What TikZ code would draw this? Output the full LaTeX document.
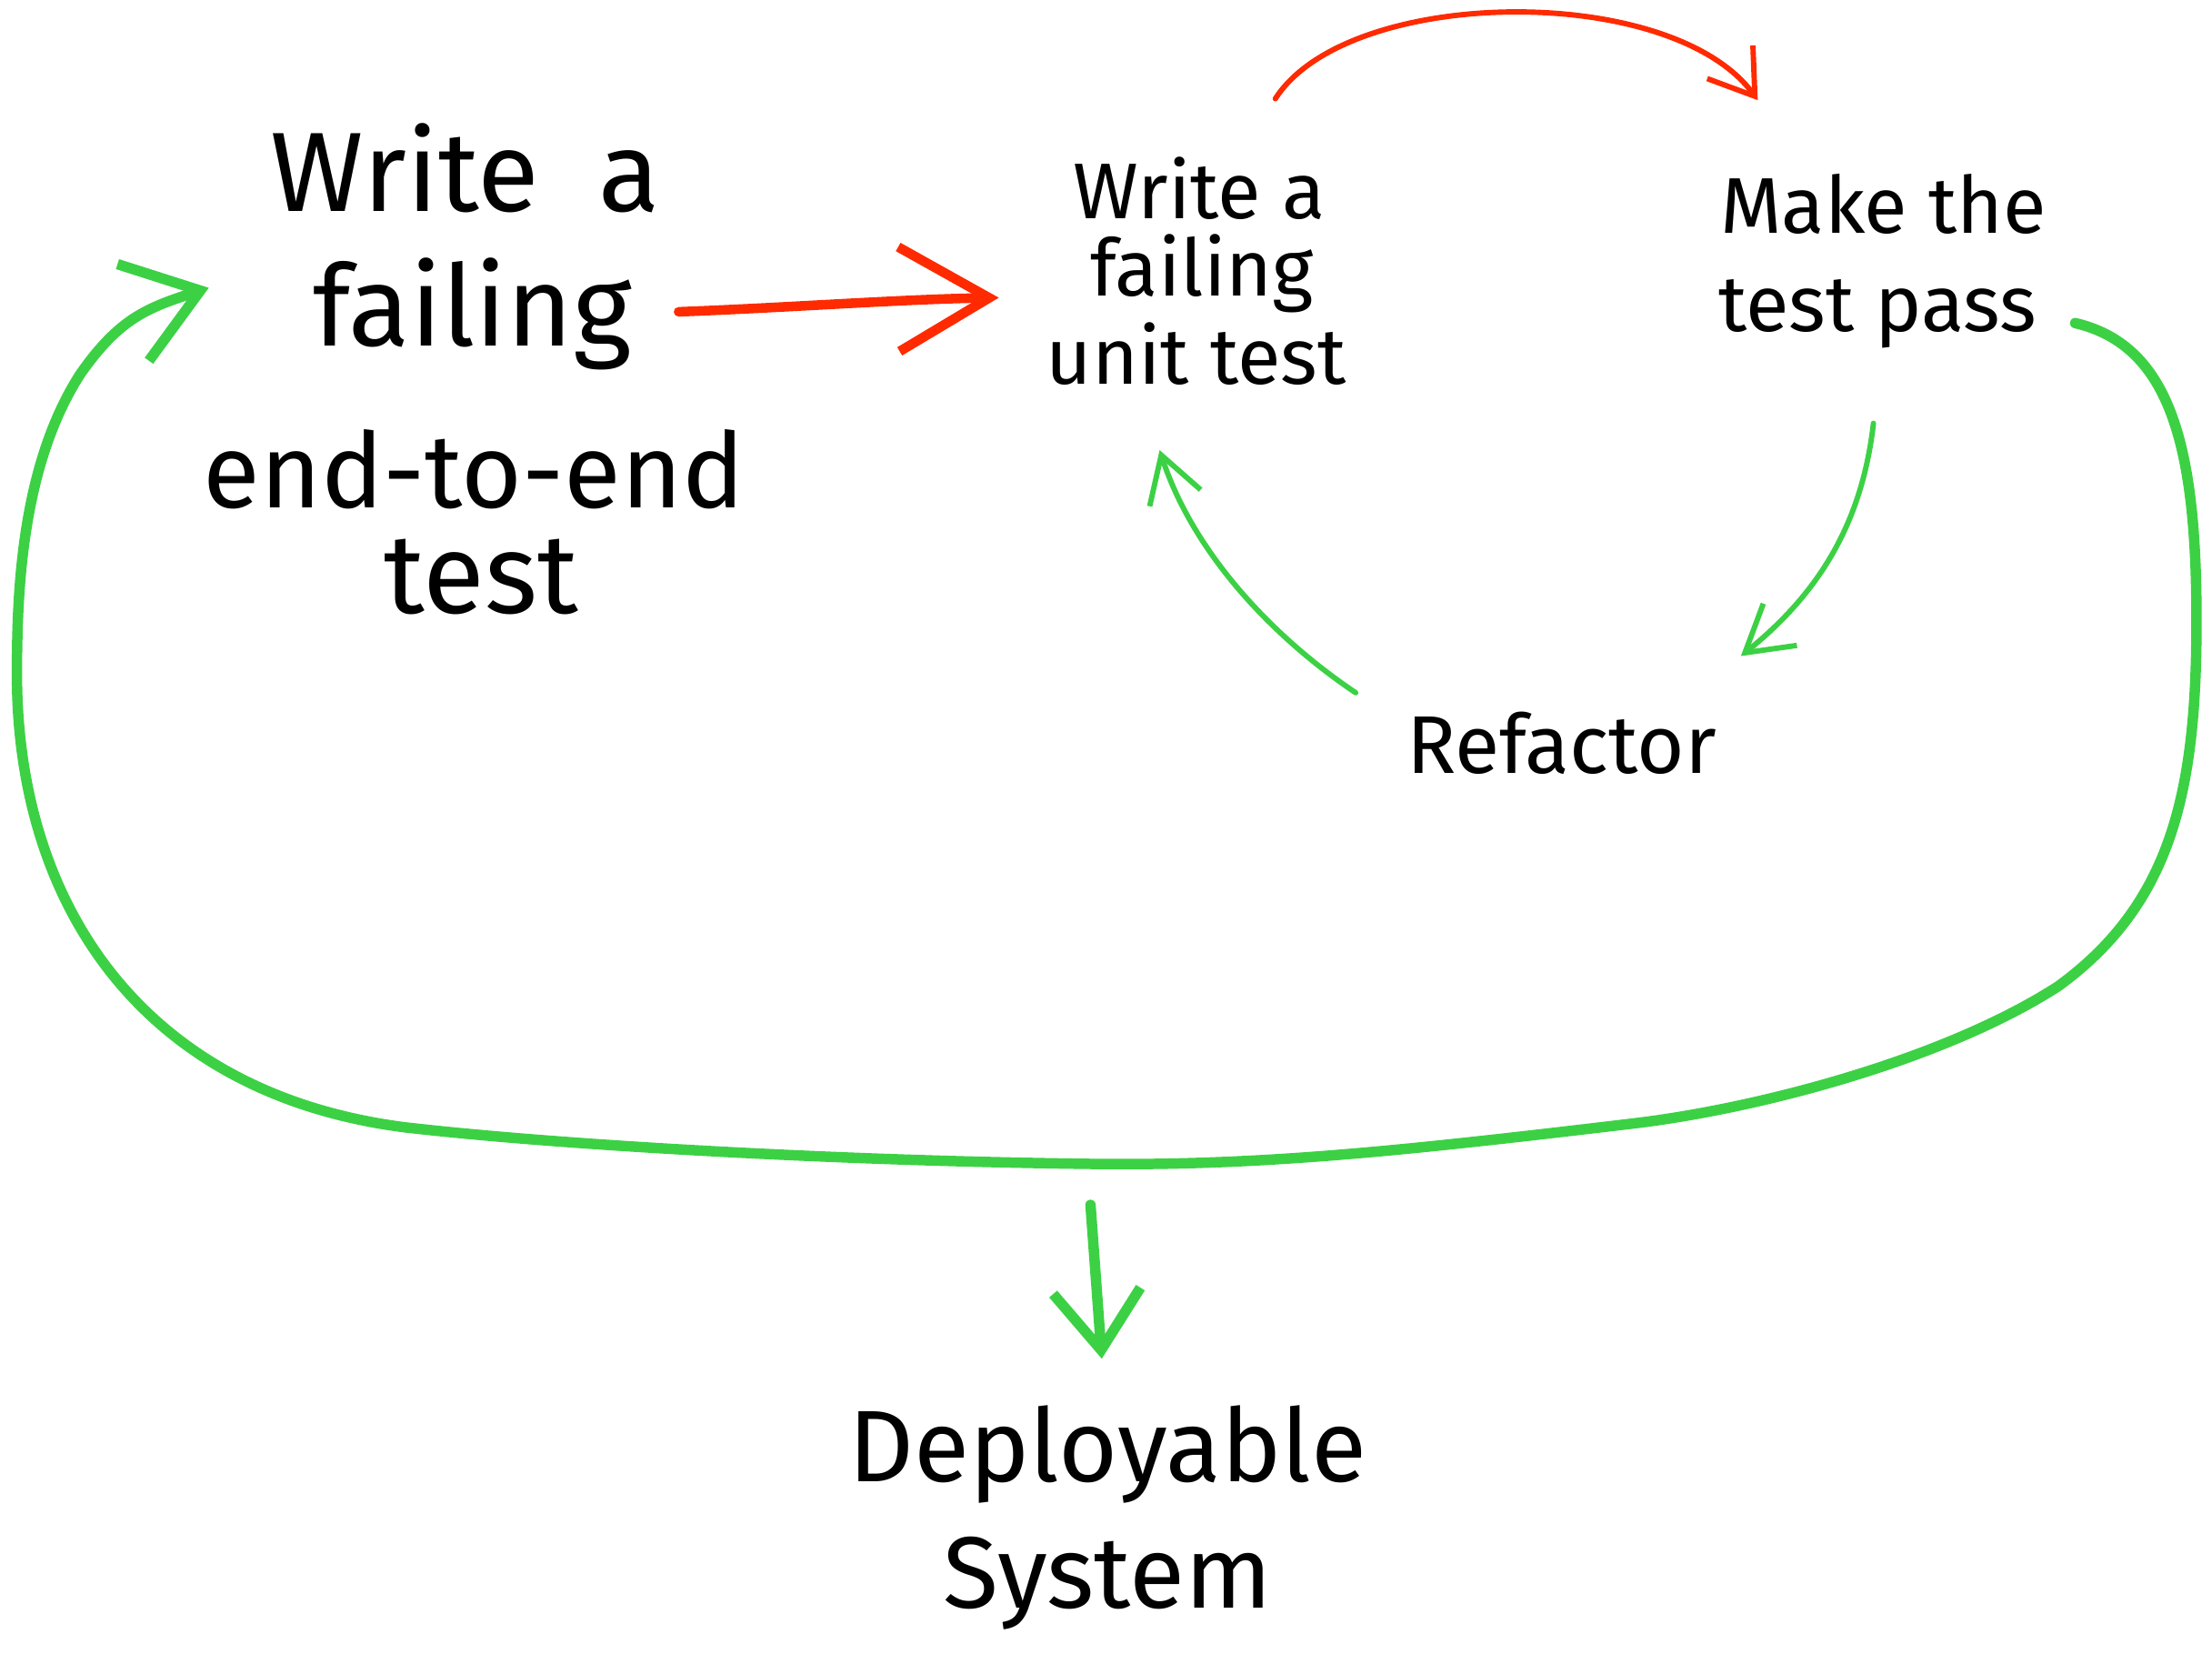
\documentclass[tikz,border=0pt]{standalone}
\usepackage{fontspec}
\setmainfont{Fira Sans}
\usetikzlibrary{arrows.meta}
\definecolor{hred}{HTML}{FF2A00}
\definecolor{hgreen}{HTML}{3CD144}
\begin{document}
\begin{tikzpicture}[x=0.5pt,y=-0.5pt,
  txt/.style={anchor=base, inner sep=0pt, text=black},
  bigtxt/.style={txt, font=\fontsize{40}{48}\selectfont},
  midtxt/.style={txt, font=\fontsize{28}{34}\selectfont},
  deptxt/.style={txt, font=\fontsize{36}{44}\selectfont},
  sketch/.style={line cap=round, line join=round},
  redthick/.style={sketch, draw=hred, line width=3.4pt, -{Straight Barb[length=32pt, width=37pt]}},
  redthin/.style={sketch, draw=hred, line width=1.9pt, -{Straight Barb[length=15pt, width=20pt]}},
  greenthick/.style={sketch, draw=hgreen, line width=3.7pt},
  greenthin/.style={sketch, draw=hgreen, line width=1.9pt, -{Straight Barb[length=16pt, width=19pt]}}
]
\useasboundingbox (0,0) rectangle (1568,1172);

% left block
\node[bigtxt] (e2e1) at (330,150) {Write\ \ a};
\node[bigtxt] (e2e2) at (335,245) {failing};
\node[bigtxt, font=\fontsize{37}{44}\selectfont] (e2e3) at (336,360) {end-to-end};
\node[bigtxt] (e2e4) at (341,435) {test};

% middle block
\node[midtxt] (unit1) at (850,155) {Write a};
\node[midtxt] (unit2) at (852,210) {failing};
\node[midtxt] (unit3) at (848,272) {unit test};

% right block
\node[midtxt] (pass1) at (1335,165) {Make the};
\node[midtxt] (pass2) at (1331,235) {test pass};

% refactor
\node[midtxt, font=\fontsize{29}{35}\selectfont] (refactor) at (1107,548) {Refactor};

% deployable
\node[deptxt] (deploy1) at (785,1050) {Deployable};
\node[deptxt] (deploy2) at (785,1140) {System};

% connector end points
\coordinate (ra) at (481,221);
\coordinate (rb) at (708,211);
\coordinate (ta) at (904,70);
\coordinate (tb) at (1246,71);
\coordinate (pa) at (1328,300);
\coordinate (pb) at (1234,465);
\coordinate (fa) at (961,491);
\coordinate (fb) at (822,319);
\coordinate (la) at (1471,229);
\coordinate (lb) at (148,204);
\coordinate (da) at (773,854);
\coordinate (db) at (781,963);

% red arrows
\draw[redthick] (ra) .. controls (560,218) and (640,212) .. (rb);
\draw[redthin] (ta) .. controls (955,-10) and (1185,-13) .. (tb);

% green small cycle
\draw[greenthin] (pa) .. controls (1320,370) and (1290,420) .. (pb);
\draw[greenthin] (fa) .. controls (900,450) and (845,390) .. (fb);

% big loop
\draw[greenthick, -{Straight Barb[length=25pt, width=36pt]}]
  (la) .. controls (1540,245) and (1557,320) .. (1557,440)
       .. controls (1557,560) and (1540,640) .. (1459,699)
       .. controls (1380,750) and (1250,785) .. (1160,796)
       .. controls (1000,815) and (900,826) .. (780,825)
       .. controls (600,823) and (400,812) .. (287,799)
       .. controls (100,775) and (12,640) .. (12,478)
       .. controls (12,420) and (15,330) .. (57,265)
       .. controls (85,225) and (105,218) .. (lb);

% down arrow
\draw[greenthick, -{Straight Barb[length=21pt, width=31pt]}] (da) -- (db);
\end{tikzpicture}
\end{document}
